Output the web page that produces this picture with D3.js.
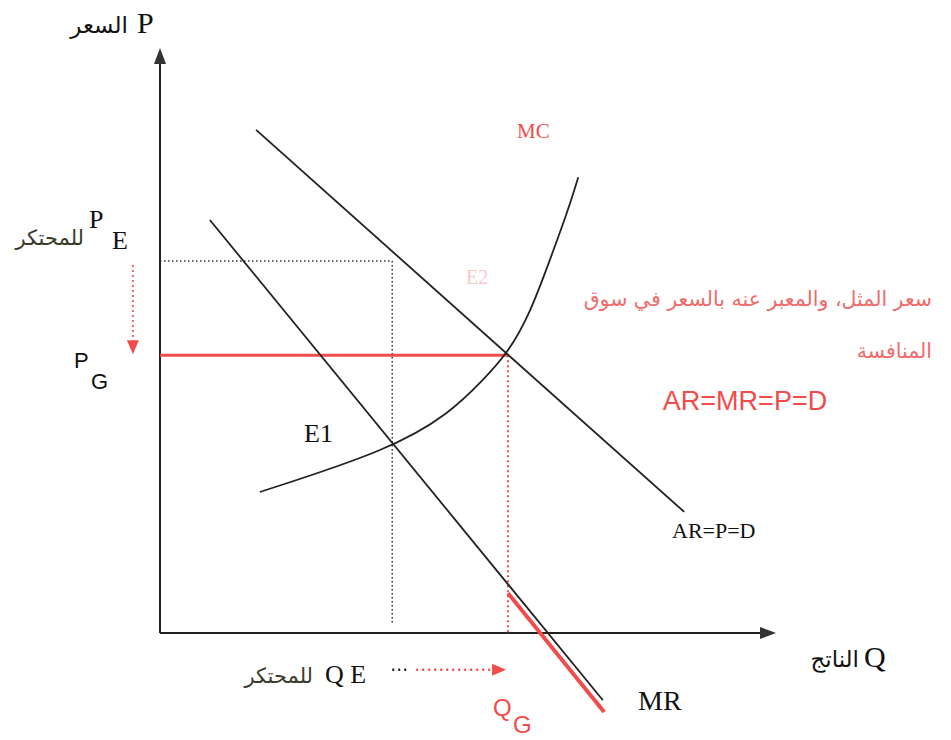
<!DOCTYPE html>
<html>
<head>
<meta charset="utf-8">
<script src="https://cdn.jsdelivr.net/npm/d3@7"></script>
<style>
  body { margin: 0; background: #fff; }
  svg { display: block; }
</style>
</head>
<body>
<div id="container"></div>
<script>
/* CONSTANTS AND GLOBALS */
const width = 951,
  height = 740,
  red = "#f24b4b",
  ink = "#222";

/* DATA (abstract units, axis runs 0..10) */
const arLine = [[1.56, 8.60], [8.51, 2.07]];          // AR=P=D
const mrLine = [[0.81, 7.06], [7.19, -1.15]];         // MR
const mrRed = [[5.65, 0.68], [7.21, -1.35]];          // competitive part
const mcCurve = [
  [1.62, 2.41], [3.73, 3.13], [4.71, 3.76], [5.24, 4.32], [5.65, 4.79],
  [6.01, 5.47], [6.33, 6.38], [6.61, 7.18], [6.79, 7.79]
];
const priceE = 6.36, qtyE = 3.77;   // monopoly
const priceG = 4.75, qtyG = 5.65;   // competition
const arabicNote = ["سعر المثل، والمعبر عنه بالسعر في سوق", "المنافسة"];

/* SCALES */
const x = d3.scaleLinear().domain([0, 10]).range([160, 776]);
const y = d3.scaleLinear().domain([0, 10]).range([633, 48]);

const svg = d3.select("#container").append("svg")
  .attr("width", width).attr("height", height);

const line = d3.line().x(d => x(d[0])).y(d => y(d[1]));

/* AXES */
svg.append("line").attr("x1", x(0)).attr("y1", y(0)).attr("x2", x(0)).attr("y2", y(10) + 14)
  .attr("stroke", ink).attr("stroke-width", 2);
svg.append("path")
  .attr("d", `M${x(0)},${y(10)} L${x(0) - 6},${y(10) + 16} L${x(0) + 6},${y(10) + 16} Z`)
  .attr("fill", "#333");
svg.append("line").attr("x1", x(0)).attr("y1", y(0)).attr("x2", x(10) - 14).attr("y2", y(0))
  .attr("stroke", ink).attr("stroke-width", 2);
svg.append("path")
  .attr("d", `M${x(10)},${y(0)} L${x(10) - 16},${y(0) - 6} L${x(10) - 16},${y(0) + 6} Z`)
  .attr("fill", "#333");

/* GUIDES */
// monopoly price / quantity (black dots)
svg.append("line")
  .attr("x1", x(0)).attr("y1", y(priceE)).attr("x2", x(qtyE)).attr("y2", y(priceE))
  .attr("stroke", "#333").attr("stroke-width", 1.5).attr("stroke-dasharray", "1.5,2.5");
svg.append("line")
  .attr("x1", x(qtyE)).attr("y1", y(priceE)).attr("x2", x(qtyE)).attr("y2", y(0) - 8)
  .attr("stroke", "#333").attr("stroke-width", 1.5).attr("stroke-dasharray", "1.5,2.5");

// competitive price / quantity (red)
svg.append("line")
  .attr("x1", x(0)).attr("y1", y(priceG)).attr("x2", x(qtyG)).attr("y2", y(priceG))
  .attr("stroke", red).attr("stroke-width", 3);
svg.append("line")
  .attr("x1", x(qtyG)).attr("y1", y(priceG)).attr("x2", x(qtyG)).attr("y2", y(0))
  .attr("stroke", red).attr("stroke-width", 2).attr("stroke-dasharray", "2,3");

/* CURVES */
svg.append("path").datum(arLine).attr("d", line)
  .attr("fill", "none").attr("stroke", ink).attr("stroke-width", 1.8);
svg.append("path").datum(mrLine).attr("d", line)
  .attr("fill", "none").attr("stroke", ink).attr("stroke-width", 1.8);
svg.append("path").datum(mrRed).attr("d", line)
  .attr("fill", "none").attr("stroke", red).attr("stroke-width", 4);
svg.append("path").datum(mcCurve)
  .attr("d", d3.line().x(d => x(d[0])).y(d => y(d[1])).curve(d3.curveBasis))
  .attr("fill", "none").attr("stroke", ink).attr("stroke-width", 1.8);

/* MOVEMENT ARROWS */
// price falls PE -> PG
const ax = x(-0.44);
svg.append("line").attr("x1", ax).attr("y1", y(priceE) + 4).attr("x2", ax).attr("y2", y(priceG) - 16)
  .attr("stroke", red).attr("stroke-width", 2).attr("stroke-dasharray", "2,3").attr("opacity", 0.85);
svg.append("path")
  .attr("d", `M${ax - 6},${y(priceG) - 15} L${ax + 6},${y(priceG) - 15} L${ax},${y(priceG) - 1} Z`)
  .attr("fill", red);

// quantity rises QE -> QG
const ay = y(-0.63);
svg.append("line").attr("x1", x(qtyE)).attr("y1", ay).attr("x2", x(qtyE) + 18).attr("y2", ay)
  .attr("stroke", "#222").attr("stroke-width", 2.5).attr("stroke-dasharray", "2,4");
svg.append("line").attr("x1", x(qtyE) + 24).attr("y1", ay).attr("x2", x(qtyG) - 14).attr("y2", ay)
  .attr("stroke", red).attr("stroke-width", 2.5).attr("stroke-dasharray", "2,4");
svg.append("path")
  .attr("d", `M${x(qtyG) - 16},${ay - 6} L${x(qtyG) - 16},${ay + 6} L${x(qtyG) - 2},${ay} Z`)
  .attr("fill", red);

/* LABELS */
const serif = "'Liberation Serif', 'DejaVu Serif', serif",
  sans = "'Liberation Sans', Arial, sans-serif",
  arab = "'DejaVu Sans', sans-serif";

function label(t, px, py, opts = {}) {
  return svg.append("text")
    .attr("x", px).attr("y", py)
    .attr("font-family", opts.family || serif)
    .attr("font-size", opts.size || 24)
    .attr("fill", opts.fill || "#111")
    .attr("text-anchor", opts.anchor || "start")
    .text(t);
}

// axis titles
label("P", 137, 33, { size: 30 });
label("السعر", 128, 33, { family: arab, size: 23, anchor: "end" });
label("Q", 864, 667, { size: 30 });
label("الناتج", 859, 667, { family: arab, size: 23, anchor: "end" });

// PE / PG
label("P", 89, 228, { size: 26 });
label("E", 112, 249, { size: 26 });
label("للمحتكر", 84, 245, { family: arab, size: 21, anchor: "end", fill: "#3b3b2c" });
label("P", 74, 368, { family: sans, size: 22 });
label("G", 91, 389, { family: sans, size: 22 });

// curve names
label("MC", 517, 138, { size: 21, fill: red });
label("E2", 466, 284, { size: 20, fill: "#f7c9c9" });
label("E1", 304, 442, { size: 26 });
label("AR=P=D", 672, 538, { size: 22 });
label("MR", 638, 710, { size: 28 });

// QE / QG
label("Q E", 325, 683, { size: 26 });
label("للمحتكر", 313, 683, { family: arab, size: 21, anchor: "end", fill: "#3b3b2c" });
label("Q", 493, 716, { family: sans, size: 24, fill: red });
label("G", 513, 733, { family: sans, size: 24, fill: red });

// competitive note
arabicNote.forEach((t, i) => {
  label(t, 932, 306 + i * 52, { family: arab, size: 20.5, anchor: "end", fill: "#f06a6a" });
});
label("AR=MR=P=D", 745, 410, { family: sans, size: 27, anchor: "middle", fill: red });
</script>
</body>
</html>
